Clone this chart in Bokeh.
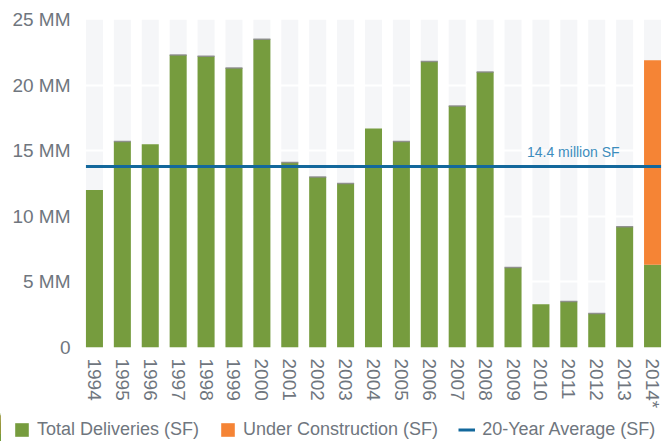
import math
from bokeh.plotting import figure
from bokeh.models import (Range1d, FixedTicker, Legend, LegendItem, Label, ColumnDataSource)
from bokeh.embed import file_html
from bokeh.resources import INLINE

years = ["1994", "1995", "1996", "1997", "1998", "1999", "2000", "2001", "2002", "2003",
         "2004", "2005", "2006", "2007", "2008", "2009", "2010", "2011", "2012", "2013", "2014*"]
deliveries = [12.0, 15.7, 15.5, 22.3, 22.2, 21.3, 23.5, 14.1, 13.0, 12.5,
              16.7, 15.7, 21.8, 18.4, 21.0, 6.1, 3.3, 3.5, 2.6, 9.2, 6.3]
under_construction = [0, 0, 0, 0, 0, 0, 0, 0, 0, 0,
                      0, 0, 0, 0, 0, 0, 0, 0, 0, 0, 15.6]
has_cap = [0, 1, 0, 1, 1, 1, 1, 1, 1, 1, 0, 1, 1, 1, 1, 1, 0, 1, 1, 1, 0]
avg_value = 13.8
avg_label = "14.4 million SF"
legend_labels = ["Total Deliveries (SF)", "Under Construction (SF)", "20-Year Average (SF)"]
y_ticks = [0, 5, 10, 15, 20, 25]
y_tick_labels = ["0", "5 MM", "10 MM", "15 MM", "20 MM", "25 MM"]
y_max = 25

GREEN = "#769c3e"
ORANGE = "#f58435"
BLUE = "#13689c"
BG = "#f5f6f8"
TXT = "#6f767e"
FONT = "Liberation Sans"

idx = list(range(len(years)))
BW = 0.61

p = figure(width=672, height=411, output_backend="svg", toolbar_location=None,
           x_range=Range1d(-0.5, len(years) - 0.5), y_range=Range1d(0, y_max),
           min_border_left=80, min_border_right=6, min_border_top=19, min_border_bottom=64)
p.outline_line_color = None
p.grid.visible = False
p.background_fill_color = "white"
p.border_fill_color = "white"

# background full-height bars
p.vbar(x=idx, top=[y_max] * len(idx), bottom=0, width=BW, fill_color=BG, line_color=None)
# white grid lines over background bars
p.hspan(y=y_ticks[1:-1], line_color="white", line_width=2)

src = ColumnDataSource(dict(x=idx, d=deliveries,
                            u=[d + u for d, u in zip(deliveries, under_construction)]))
p.vbar(x="x", top="d", bottom=0, width=BW, fill_color=GREEN, line_color=None, source=src)
p.vbar(x="x", top="u", bottom="d", width=BW, fill_color=ORANGE, line_color=None, source=src)

cap_x = [i for i, c in zip(idx, has_cap) if c]
cap_y = [deliveries[i] for i in cap_x]
p.rect(x=cap_x, y=cap_y, width=BW, height=1.5, height_units="screen",
       fill_color="#8a8a8a", line_color=None, fill_alpha=0.9)

avg_src = ColumnDataSource(dict(x0=[idx[0] - BW / 2], x1=[idx[-1] + BW / 2],
                                y=[avg_value]))
p.segment(x0="x0", x1="x1", y0="y", y1="y", line_color=BLUE, line_width=3, source=avg_src)

p.add_layout(Label(x=15.5, y=avg_value, y_offset=6, text=avg_label, text_font=FONT,
                   text_font_size="14px", text_color="#3d8dbd", text_baseline="bottom"))

# axes
xa = p.xaxis[0]
xa.ticker = FixedTicker(ticks=idx)
xa.major_label_overrides = {i: y for i, y in zip(idx, years)}
xa.major_label_orientation = -math.pi / 2
xa.major_label_standoff = 5
xa.axis_line_color = None
xa.major_tick_line_color = None
xa.minor_tick_line_color = None
xa.major_label_text_font = FONT
xa.major_label_text_font_size = "19px"
xa.major_label_text_color = TXT

ya = p.yaxis[0]
ya.ticker = FixedTicker(ticks=y_ticks)
ya.major_label_overrides = {t: l for t, l in zip(y_ticks, y_tick_labels)}
ya.major_label_standoff = 4
ya.axis_line_color = None
ya.major_tick_line_color = None
ya.minor_tick_line_color = None
ya.major_label_text_font = FONT
ya.major_label_text_font_size = "19px"
ya.major_label_text_color = TXT

# legend strip (its glyphs use the same data, kept far outside the visible range)
pl = figure(width=672, height=30, output_backend="svg", toolbar_location=None,
            x_axis_location=None, y_axis_location=None, min_border=0,
            x_range=Range1d(1000, 1001), y_range=Range1d(0, y_max))
pl.outline_line_color = None
pl.grid.visible = False
pl.background_fill_color = "white"
pl.border_fill_color = "white"
lg = pl.vbar(x="x", top="d", bottom=0, width=BW, fill_color=GREEN, line_color=None, source=src)
lo = pl.vbar(x="x", top="u", bottom="d", width=BW, fill_color=ORANGE, line_color=None, source=src)
ll = pl.segment(x0="x0", x1="x1", y0="y", y1="y", line_color=BLUE, line_width=3, source=avg_src)

legend = Legend(items=[LegendItem(label=legend_labels[0], renderers=[lg]),
                       LegendItem(label=legend_labels[1], renderers=[lo]),
                       LegendItem(label=legend_labels[2], renderers=[ll])],
                orientation="horizontal", location=(13, 1),
                border_line_color=None, background_fill_alpha=0,
                padding=0, margin=0, spacing=20, label_standoff=7,
                glyph_width=17, glyph_height=17,
                label_text_font=FONT, label_text_font_size="18px", label_text_color=TXT)
pl.add_layout(legend, "center")

open("out.html", "w").write(file_html([p, pl], INLINE))
